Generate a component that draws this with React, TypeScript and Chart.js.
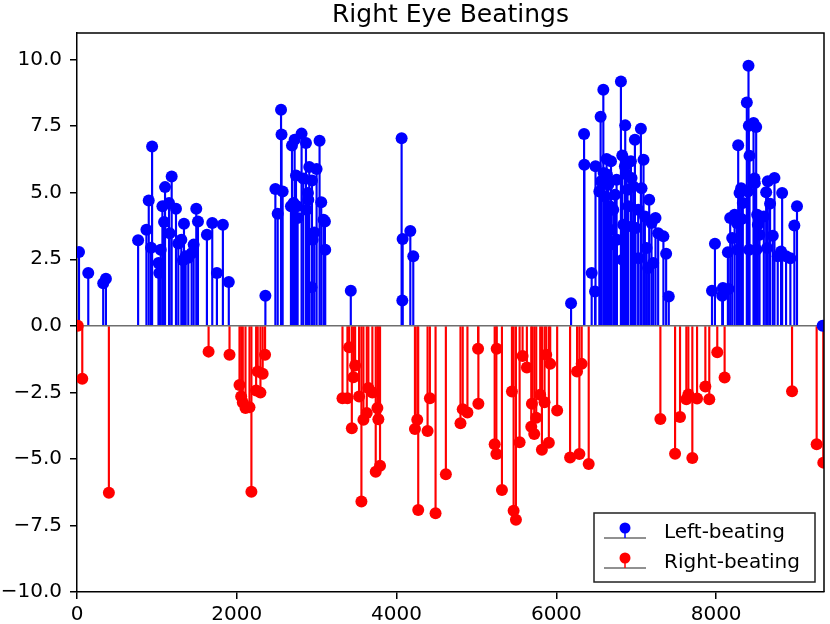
import React, { useEffect, useRef } from "react";
import { Chart, registerables } from "chart.js";

Chart.register(...registerables);

const chartTitle = "Right Eye Beatings";
const seriesNames = ["Left-beating", "Right-beating"];
const xTicks = [0, 2000, 4000, 6000, 8000];
const yTicks = [-10, -7.5, -5, -2.5, 0, 2.5, 5, 7.5, 10];

// left-beating events (positive)
const leftX = [
  25, 141, 328, 362, 765, 869, 898, 927, 940, 1020, 1030, 1048, 1069, 1090, 1102, 1152, 1160, 1185,
  1239, 1268, 1306, 1327, 1339, 1360, 1393, 1435, 1460, 1493, 1514, 1626, 1693, 1751, 1826, 1900,
  2358, 2483, 2512, 2554, 2560, 2574, 2678, 2691, 2711, 2724, 2741, 2754, 2761, 2811, 2832, 2866,
  2874, 2891, 2895, 2907, 2936, 2941, 2949, 2970, 2999, 3036, 3057, 3086, 3103, 3107, 3427, 4063,
  4072, 4076, 4172, 4209, 6184, 6347, 6350, 6442, 6484, 6490, 6538, 6554, 6560, 6588, 6592, 6609,
  6629, 6633, 6650, 6671, 6675, 6680, 6684, 6712, 6734, 6754, 6758, 6808, 6825, 6828, 6837, 6858,
  6862, 6879, 6891, 6900, 6933, 6941, 6945, 6962, 6983, 6991, 7024, 7028, 7058, 7066, 7091, 7108,
  7129, 7149, 7162, 7191, 7212, 7241, 7274, 7340, 7374, 7407, 7948, 7985, 8076, 8085, 8147, 8156,
  8176, 8201, 8231, 8259, 8272, 8276, 8293, 8313, 8318, 8334, 8384, 8397, 8405, 8409, 8412, 8418,
  8468, 8480, 8484, 8501, 8505, 8513, 8522, 8543, 8597, 8626, 8638, 8647, 8675, 8709, 8730, 8771,
  8813, 8826, 8875, 8929, 8979, 9012, 9333,
];
const leftY = [
  2.77, 1.98, 1.6, 1.77, 3.21, 3.61, 4.71, 2.93, 6.74, 2.36, 1.98, 2.86, 4.49, 3.9, 5.21, 4.61, 3.48, 5.61,
  4.4, 3.09, 3.23, 2.46, 3.83, 2.61, 2.56, 2.73, 3.05, 4.4, 3.92, 3.42, 3.86, 1.98, 3.8, 1.65,
  1.13, 5.14, 4.21, 8.12, 7.19, 5.05, 4.49, 6.77, 4.61, 6.99, 5.65, 4.49, 4.05, 7.22, 5.53, 6.87,
  4.36, 4.99, 4.74, 5.97, 1.45, 5.46, 3.23, 3.51, 5.89, 6.95, 4.64, 3.98, 3.92, 2.86, 1.32, 7.05,
  0.95, 3.26, 3.56, 2.61, 0.85, 7.21, 6.05, 1.98, 1.29, 5.99, 5.05, 7.85, 5.43, 8.87, 5.74, 4.86,
  6.27, 5.68, 5.3, 4.49, 3.61, 3.05, 6.18, 4.36, 4.92, 5.49, 3.23, 9.18, 6.4, 2.48, 3.8, 5.99,
  7.53, 5.68, 5.11, 4.49, 6.18, 5.55, 3.73, 5.24, 6.99, 3.67, 4.36, 2.54, 7.4, 5.17, 6.24, 4.11,
  2.92, 2.17, 4.74, 3.86, 2.36, 4.05, 3.48, 3.36, 2.71, 1.1, 1.32, 3.08, 1.13, 1.42, 2.76, 1.38,
  4.05, 3.3, 4.17, 3.86, 2.86, 6.78, 4.99, 5.17, 4.01, 4.61, 8.39, 5.05, 9.77, 7.52, 2.86, 6.39,
  7.62, 5.53, 5.36, 7.47, 2.86, 4.17, 3.8, 3.42, 4.11, 5.02, 2.92, 5.43, 4.59, 3.38, 5.55, 2.61,
  2.79, 4.99, 2.61, 2.54, 3.77, 4.49, 0,
];

// right-beating events (negative)
const rightX = [
  10, 66, 399, 1647, 1909, 2034, 2055, 2075, 2109, 2159, 2183, 2242, 2262, 2296, 2324, 2354, 3323,
  3385, 3406, 3440, 3460, 3481, 3531, 3560, 3585, 3627, 3647, 3697, 3739, 3760, 3772, 3793, 4230,
  4259, 4271, 4388, 4417, 4488, 4617, 4800, 4828, 4887, 5020, 5024, 5228, 5249, 5253, 5319, 5444,
  5465, 5494, 5540, 5577, 5631, 5686, 5694, 5723, 5748, 5798, 5819, 5852, 5873, 5906, 5923, 6010,
  6172, 6259, 6288, 6317, 6405, 7302, 7486, 7548, 7627, 7652, 7702, 7761, 7865, 7914, 8014, 8106,
  8950, 9258, 9341,
];
const rightY = [
  0, -1.99, -6.27, -0.97, -1.09, -2.22, -2.66, -2.88, -3.09, -3.06, -6.23, -2.43, -1.72, -2.51, -1.8, -1.09, -2.72,
  -2.72, -0.81, -3.85, -1.93, -1.49, -2.66, -6.6, -3.53, -3.28, -2.34, -2.51, -5.48, -3.09, -3.51, -5.26, -3.88,
  -3.53, -6.92, -3.95, -2.72, -7.04, -5.58, -3.66, -3.13, -3.26, -0.86, -2.93, -4.45, -4.82, -0.86, -6.17, -2.47,
  -6.95, -7.29, -4.37, -1.13, -1.57, -3.79, -2.93, -4.06, -3.45, -2.59, -4.66, -2.87, -1.09, -4.39, -1.43, -3.18,
  -4.95, -1.72, -4.82, -1.43, -5.19, -3.5, -4.81, -3.43, -2.76, -2.58, -4.97, -2.73, -2.28, -2.76, -0.99, -1.94,
  -2.46, -4.45, -5.14,
];

const BLUE = "#0000ff";
const RED = "#ff0000";
const FONT = "'DejaVu Sans', sans-serif";

const pts = (xs: number[], ys: number[]) => xs.map((x, i) => ({ x, y: ys[i] }));

// title, top/right spines and the stem-style legend
const framePlugin = {
  id: "frame",
  afterDraw(chart: any) {
    const { ctx, chartArea: a } = chart;
    ctx.save();
    ctx.strokeStyle = "#000";
    ctx.lineWidth = 1.5;
    ctx.beginPath();
    ctx.moveTo(a.left, a.top);
    ctx.lineTo(a.right, a.top);
    ctx.lineTo(a.right, a.bottom);
    ctx.stroke();

    ctx.fillStyle = "#000";
    ctx.font = `25px ${FONT}`;
    ctx.textAlign = "center";
    ctx.textBaseline = "alphabetic";
    ctx.fillText(chartTitle, (a.left + a.right) / 2, a.top - 11);

    const w = 221;
    const h = 69;
    const lx = a.right - 9 - w;
    const ly = a.bottom - 10 - h;
    ctx.fillStyle = "#fff";
    ctx.fillRect(lx, ly, w, h);
    ctx.strokeStyle = "#222";
    ctx.lineWidth = 1.5;
    ctx.strokeRect(lx, ly, w, h);

    const colors = [BLUE, RED];
    seriesNames.forEach((name, i) => {
      const base = ly + 25 + i * 30;
      ctx.strokeStyle = "#222";
      ctx.lineWidth = 1;
      ctx.beginPath();
      ctx.moveTo(lx + 10, base);
      ctx.lineTo(lx + 52, base);
      ctx.stroke();
      ctx.strokeStyle = colors[i];
      ctx.lineWidth = 1.5;
      ctx.beginPath();
      ctx.moveTo(lx + 31, base);
      ctx.lineTo(lx + 31, base - 10);
      ctx.stroke();
      ctx.fillStyle = colors[i];
      ctx.beginPath();
      ctx.arc(lx + 31, base - 10, 5.5, 0, Math.PI * 2);
      ctx.fill();
      ctx.fillStyle = "#000";
      ctx.font = `20px ${FONT}`;
      ctx.textAlign = "left";
      ctx.textBaseline = "alphabetic";
      ctx.fillText(name, lx + 70, base);
    });
    ctx.restore();
  },
};

const StemChart = () => {
  const canvasRef = useRef<HTMLCanvasElement | null>(null);

  useEffect(() => {
    document.body.style.margin = "0";
    if (!canvasRef.current) return;
    Chart.defaults.font.family = FONT;
    Chart.defaults.color = "#000";

    const chart = new Chart(canvasRef.current, {
      type: "bar",
      data: {
        datasets: [
          {
            type: "scatter",
            label: seriesNames[1],
            data: pts(rightX, rightY),
            backgroundColor: RED,
            borderWidth: 0,
            pointRadius: 6,
            clip: 0,
            order: 1,
          } as any,
          {
            type: "scatter",
            label: seriesNames[0],
            data: pts(leftX, leftY),
            backgroundColor: BLUE,
            borderWidth: 0,
            pointRadius: 6,
            clip: 0,
            order: 2,
          } as any,
          {
            type: "line",
            label: "baseline",
            data: [
              { x: 0, y: 0 },
              { x: 9345, y: 0 },
            ],
            borderColor: "#6e6e6e",
            borderWidth: 1.5,
            pointRadius: 0,
            clip: 0,
            order: 3,
          } as any,
          {
            type: "bar",
            label: "right stems",
            data: pts(rightX, rightY),
            backgroundColor: RED,
            barThickness: 1.5,
            grouped: false,
            order: 4,
          } as any,
          {
            type: "bar",
            label: "left stems",
            data: pts(leftX, leftY),
            backgroundColor: BLUE,
            barThickness: 1.5,
            grouped: false,
            order: 5,
          } as any,
        ],
      },
      options: {
        responsive: false,
        animation: false,
        devicePixelRatio: 1,
        events: [],
        layout: { padding: { top: 33, right: 3, left: 0, bottom: 0 } },
        plugins: {
          legend: { display: false },
          title: { display: false },
          tooltip: { enabled: false },
        },
        scales: {
          x: {
            type: "linear",
            min: 0,
            max: 9350,
            offset: false,
            grid: {
              offset: false,
              drawOnChartArea: false,
              drawTicks: true,
              tickLength: 7,
              color: "#000",
              lineWidth: 1.5,
            },
            border: { display: true, color: "#000", width: 1.5 },
            ticks: {
              padding: 4,
              font: { size: 20 },
              maxRotation: 0,
              callback: (v: any) => String(v),
            },
            afterBuildTicks: (scale: any) => {
              scale.ticks = xTicks.map((value) => ({ value }));
            },
            afterFit: (scale: any) => {
              scale.height = 32;
            },
          },
          y: {
            type: "linear",
            min: -10,
            max: 11,
            grid: {
              drawOnChartArea: false,
              drawTicks: true,
              tickLength: 7,
              color: "#000",
              lineWidth: 1.5,
            },
            border: { display: true, color: "#000", width: 1.5 },
            ticks: {
              padding: 8,
              font: { size: 20 },
              callback: (v: any) => {
                const n = Number(v);
                return n < 0 ? "\u2212" + Math.abs(n).toFixed(1) : n.toFixed(1);
              },
            },
            afterBuildTicks: (scale: any) => {
              scale.ticks = yTicks.map((value) => ({ value }));
            },
            afterFit: (scale: any) => {
              scale.width = 77;
            },
          },
        },
      },
      plugins: [framePlugin],
    });

    return () => {
      chart.destroy();
    };
  }, []);

  return (
    <div style={{ width: 830, height: 624 }}>
      <canvas ref={canvasRef} width={830} height={624} />
    </div>
  );
};

export default function App() {
  return <StemChart />;
}
